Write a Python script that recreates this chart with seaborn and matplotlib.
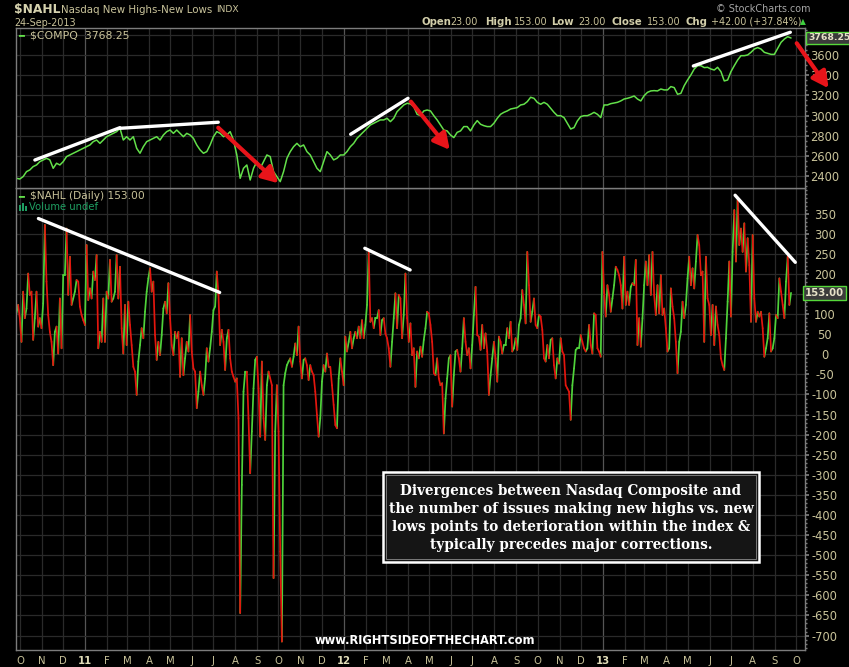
import numpy as np
import pandas as pd
import matplotlib
matplotlib.use("Agg")
import matplotlib.pyplot as plt
import matplotlib.dates as mdates
from matplotlib.ticker import MultipleLocator
from matplotlib.patches import Rectangle
import seaborn as sns

# ---------------- data ----------------
start_date = "2010-09-26"
end_date = "2013-09-24"

compq = [
    2379, 2372, 2396, 2445, 2462, 2495, 2511, 2544, 2561, 2577,
    2561, 2478, 2528, 2511, 2544, 2594, 2610, 2627, 2643, 2660,
    2676, 2692, 2709, 2742, 2758, 2725, 2758, 2791, 2808, 2824,
    2841, 2874, 2758, 2791, 2758, 2791, 2676, 2627, 2692, 2742,
    2758, 2775, 2791, 2758, 2808, 2841, 2857, 2824, 2857, 2824,
    2791, 2824, 2808, 2775, 2709, 2660, 2627, 2643, 2709, 2791,
    2841, 2824, 2791, 2808, 2841, 2758, 2610, 2379, 2478, 2511,
    2362, 2478, 2544, 2478, 2544, 2610, 2594, 2445, 2396, 2346,
    2445, 2577, 2643, 2692, 2725, 2692, 2709, 2643, 2610, 2544,
    2478, 2445, 2544, 2643, 2610, 2561, 2577, 2610, 2610, 2643,
    2692, 2725, 2775, 2808, 2841, 2874, 2907, 2924, 2940, 2957,
    2957, 2973, 2940, 2973, 3039, 3072, 3105, 3122,
    3115, 3089, 3013, 2999, 3046, 3055, 3046, 2999, 2957, 2907,
    2857, 2848, 2808, 2782, 2834, 2848, 2891, 2891, 2848, 2907,
    2950, 2914, 2900, 2891, 2891, 2924, 2973, 3013, 3032, 3046,
    3065, 3072, 3079, 3105, 3112, 3138, 3181, 3171, 3131, 3112,
    3131, 3112, 3072, 3032, 2999, 2999, 2980, 2924, 2867, 2881,
    2947, 2990, 2999, 2999, 3013, 3032, 3013, 2980, 3105, 3105,
    3118, 3125, 3131, 3145, 3164, 3171, 3181, 3194, 3164, 3145,
    3197, 3230, 3244, 3247, 3244, 3263, 3254, 3254, 3287, 3277,
    3211, 3220, 3296, 3352, 3402, 3461, 3494, 3494, 3475, 3478,
    3461, 3451, 3478, 3435, 3343, 3352, 3435, 3494, 3550, 3593,
    3593, 3600, 3626, 3659, 3673, 3659, 3626, 3616, 3606, 3606,
    3666, 3725, 3758, 3781, 3768,
]

nahl = [
    102, 123, 90, 31, 156, 90, 114, 201, 148, 156,
    36, 90, 156, 69, 90, 65, 127, 322, 181, 98,
    56, 31, -27, 56, 69, 2, 139, 15, 197, 197,
    313, 148, 243, 123, 139, 156, 185, 181, 119, 98,
    85, 73, 272, 135, 164, 139, 206, 185, 247, 15,
    56, 31, 139, 31, 156, 139, 235, 131, 139, 156,
    247, 139, 218, 65, 2, 123, 23, 131, 73, 23,
    -31, -43, -101, -18, 23, 65, 40, 106, 156, 189,
    214, 156, 181, 48, -14, 31, -2, 48, 114, 131,
    102, 177, 90, 23, -2, 56, 40, 56, -56, 40,
    -52, -10, 31, 7, 98, 7, -35, -43, -134, -93,
    -43, -77, -101, -60, 15, -18, 15, 56, 110, 119,
    206, 148, 23, 61, 31, -39, 40, 61, -10, -43,
    -56, -68, -60, -159, -644, -325, -93, -43, -43, -159,
    -296, -192, -85, -14, -6, -85, -205, -18, -159, -213,
    -77, -43, -60, -77, -557, -192, -77, -192, -491, -715,
    -77, -47, -27, -18, -10, -31, -6, 27, -2, 69,
    -18, -60, -14, -10, -27, -64,
    -27, -43, -52, -93, -151, -205, -159, -68, -27, -43,
    2, -31, -31, -77, -126, -176, -184, -60, -10, -43,
    -77, 44, 7, 31, 56, 15, 40, 56, 40, 69,
    40, 85, 40, 73, 123, 255, 81, 90, 65, 90,
    90, 110, 48, 85, 90, 52, 40, 15, -31, 31,
    90, 152, 65, 148, 139, 40, 98, 201, 90, 31,
    77, -2, 15, -81, 7, -10, 19, -6, 36, 65,
    106, 102, 73, 31, -47, -52, -10, -60, -77, -72,
    -197, -110, -60, -10, -2, -130, -52, 7, 11, -10,
    -43, 15, 90, 31, -2, 15, -35, 23, 98, 168,
    48, 44, 11, 73, 15, 52, 7, -101, -52, -10,
    31, -10, -68, 44, 31, 2, 23, 23, 65, 40,
    81, 7, 15, 40, 11, 73, 90, 160, 123, 77,
    255, 172, 81, 106, 139, 73, 65, 98, 94, 61,
    -10, -18, 23, -10, 36, 40, -27, -60, -10, -23,
    40, 7, -2, -77, -85, -93, -163, -77, -35, 11,
    15, 15, 48, 31, 15, 7, 15, 73, 23, 2,
    102, 98, 15, 7, -6, 255, 156, 94, 172, 148,
    106, 139, 172, 218, 210, 197, 172, 114, 243, 123,
    156, 123, 168, 177, 172, 235, 23, 90, 19, 90,
    172, 231, 172, 247, 148, 255, 148, 98, 172, 102,
    197, 98, 114, 65, 7, 15, 164, 119, 90, 31,
    -47, 31, 56, 131, 90, 123, 189, 243, 172, 214,
    164, 231, 297, 272, 197, 206, 31, 243, 139, 123,
    48, 123, 23, 119, 73, 48, -10, -27, -39, 40,
    131, 231, 94, 255, 359, 231, 384, 272, 313, 255,
    326, 206, 289, 222, 81, 297, 139, 81, 106, 94,
    106, 65, -6, 15, 40, 102, 7, 15, 40, 98,
    90, 189, 156, 123, 90, 181, 243, 123, 153,
]

month_labels = ["O", "N", "D", "11", "F", "M", "A", "M", "J", "J", "A", "S",
                "O", "N", "D", "12", "F", "M", "A", "M", "J", "J", "A", "S",
                "O", "N", "D", "13", "F", "M", "A", "M", "J", "J", "A", "S", "O"]
compq_ticks = [2400, 2600, 2800, 3000, 3200, 3400, 3600, 3800]
compq_tick_labels = ["2400", "2600", "2800", "3000", "3200", "3400", "3600", ""]
nahl_ticks = [350, 300, 250, 200, 150, 100, 50, 0, -50, -100, -150, -200, -250,
              -300, -350, -400, -450, -500, -550, -600, -650, -700]
# the 150 label sits under the last-value flag in the reference
nahl_tick_labels = ["" if v == 150 else str(v) for v in nahl_ticks]

compq_last = 3768.25
nahl_last = 153.00

# hand-drawn annotations (date, value) pairs
top_trendlines = [
    ("2010-10-22", 2560, "2011-02-19", 2880),
    ("2011-02-19", 2874, "2011-07-08", 2934),
    ("2012-01-11", 2815, "2012-04-01", 3171),
    ("2013-05-09", 3491, "2013-09-23", 3825),
]
top_arrows = [
    ("2011-07-08", 2880, "2011-10-01", 2330),
    ("2012-04-05", 3138, "2012-05-30", 2660),
    ("2013-10-02", 3716, "2013-11-16", 3270),
]
bottom_trendlines = [
    ("2010-10-27", 338, "2011-07-10", 154),
    ("2012-01-31", 264, "2012-04-04", 210),
    ("2013-07-07", 396, "2013-09-30", 229),
]

# ---------------- styling ----------------
KHAKI = "#c9c39a"
GRID = "#2a2a2a"
YEARGRID = "#555555"
SPINE = "#7c7c7c"
GREEN_TOP = "#63e04a"
GREEN = "#4fd23a"
RED = "#e3160e"

sns.set_theme(style="dark", rc={
    "axes.facecolor": "black", "figure.facecolor": "black",
    "axes.edgecolor": SPINE, "grid.color": GRID,
})
plt.rcParams["font.family"] = ["DejaVu Sans"]

W, H = 849, 667
fig = plt.figure(figsize=(W / 100, H / 100), dpi=100)
fig.patch.set_facecolor("black")

L = 16 / W
Wd = (805 - 16) / W
ax2 = fig.add_axes([L, 1 - 650 / H, Wd, (650 - 188) / H])
ax1 = fig.add_axes([L, 1 - 188 / H, Wd, (188 - 28) / H], sharex=ax2)

dates_c = pd.date_range(start_date, end_date, periods=len(compq))
dates_n = pd.date_range(start_date, end_date, periods=len(nahl))

# top panel: Nasdaq composite
dfc = pd.DataFrame({"date": dates_c, "close": compq})
sns.lineplot(data=dfc, x="date", y="close", ax=ax1, color=GREEN_TOP, lw=1.1,
             estimator=None)

# bottom panel: NAHL, each segment coloured by direction
rows = []
for i in range(len(nahl) - 1):
    d = "up" if nahl[i + 1] >= nahl[i] else "down"
    rows.append((dates_n[i], nahl[i], i, d))
    rows.append((dates_n[i + 1], nahl[i + 1], i, d))
dfn = pd.DataFrame(rows, columns=["date", "value", "seg", "dir"])
sns.lineplot(data=dfn, x="date", y="value", hue="dir", units="seg",
             estimator=None, palette={"up": GREEN, "down": RED},
             legend=False, ax=ax2, lw=1.25, solid_capstyle="round")

xmin = pd.Timestamp("2010-09-25 08:00")
xmax = pd.Timestamp("2013-10-13 17:00")
ax2.set_xlim(xmin, xmax)
ax1.set_ylim(2283, 3867)
ax2.set_ylim(-736, 414)

month_starts = pd.date_range("2010-10-01", "2013-10-01", freq="MS")
for ax in (ax1, ax2):
    ax.set_xlabel("")
    ax.set_ylabel("")
    ax.set_xticks(month_starts)
    ax.grid(True, which="major", color=GRID, lw=0.9)
    for s in ax.spines.values():
        s.set_color(SPINE)
        s.set_linewidth(1.0)
    ax.yaxis.tick_right()

ax2.set_xticklabels(month_labels)
ax1.tick_params(axis="x", which="both", length=0, labelbottom=False)
ax2.tick_params(axis="x", which="major", length=2.5, color=SPINE,
                labelcolor=KHAKI, labelsize=7.3, pad=1.5)
for lab in ax2.get_xticklabels():
    if lab.get_text().isdigit():
        lab.set_fontweight("bold")
        lab.set_color("#e0dcb8")

for ax in (ax1, ax2):
    for gl, lab in zip(ax.xaxis.get_gridlines(), month_labels):
        if lab.isdigit():
            gl.set_color(YEARGRID)

ax1.set_yticks(compq_ticks)
ax1.set_yticklabels(compq_tick_labels)
ax1.yaxis.set_minor_locator(MultipleLocator(50))
ax2.set_yticks(nahl_ticks)
ax2.set_yticklabels(nahl_tick_labels)
ax2.yaxis.set_minor_locator(MultipleLocator(10))
for ax in (ax1, ax2):
    ax.tick_params(axis="y", which="major", length=3, color=SPINE,
                   labelcolor=KHAKI, labelsize=8.3, pad=11.2, right=True, left=False)
    ax.tick_params(axis="y", which="minor", length=1.5, color=SPINE, right=True, left=False)
    ax.grid(False, which="minor")
    for lab in ax.get_yticklabels():
        lab.set_horizontalalignment("center")

# annotations
def dn(s):
    return mdates.date2num(pd.Timestamp(s))

for d0, v0, d1, v1 in top_trendlines:
    ax1.plot([pd.Timestamp(d0), pd.Timestamp(d1)], [v0, v1], color="white",
             lw=2.4, solid_capstyle="round", zorder=5)
for d0, v0, d1, v1 in bottom_trendlines:
    ax2.plot([pd.Timestamp(d0), pd.Timestamp(d1)], [v0, v1], color="white",
             lw=2.4, solid_capstyle="round", zorder=5)
for d0, v0, d1, v1 in top_arrows:
    ax1.annotate("", xy=(dn(d1), v1), xytext=(dn(d0), v0),
                 arrowprops=dict(arrowstyle="-|>,head_length=0.8,head_width=0.42",
                                 color="#e8141a", lw=3.0, shrinkA=0, shrinkB=0,
                                 mutation_scale=12),
                 annotation_clip=False, zorder=6)

# last value flags on the right axis
flag = dict(boxstyle="square,pad=0.2", fc="#3b3b3b", ec="#56d83a", lw=1.0)
ax1.text(1.004, compq_last, "3768.25", transform=ax1.get_yaxis_transform(),
         ha="left", va="center", fontsize=6.7, fontweight="bold", color="#e6e2c8",
         bbox=flag, zorder=10, clip_on=False)
ax2.text(1.0, nahl_last, "153.00", transform=ax2.get_yaxis_transform(),
         ha="left", va="center", fontsize=7.3, fontweight="bold", color="#e6e2c8",
         bbox=flag, zorder=10, clip_on=False)

# ---------------- header texts ----------------
def ftext(x, y, s, **kw):
    kw.setdefault("va", "center")
    return fig.text(x / W, 1 - y / H, s, **kw)

ftext(14, 9, "$NAHL", fontsize=8.8, fontweight="bold", color="#d6d2ae")
ftext(61, 10, "Nasdaq New Highs-New Lows", fontsize=7.4, color=KHAKI)
ftext(216, 10, "INDX", fontsize=6.6, color=KHAKI)
ftext(14, 23, "24-Sep-2013", fontsize=6.9, color=KHAKI)
ftext(716, 9, "© StockCharts.com", fontsize=6.9, color="#a6a6a6")

hdr = [(421, "Open", True), (450, "23.00", False), (485, "High", True),
       (514, "153.00", False), (551, "Low", True), (578, "23.00", False),
       (611, "Close", True), (647, "153.00", False), (685, "Chg", True),
       (711, "+42.00 (+37.84%)", False)]
for x, s, b in hdr:
    ftext(x, 22, s, fontsize=7.3 if b else 6.9,
          fontweight="bold" if b else "normal",
          color="#d2ceaa" if b else KHAKI)
ftext(800, 22, "▲", fontsize=5.5, color="#3fcf3f")

# panel legends
ftext(18, 35, "━", fontsize=7, color=GREEN_TOP)
ftext(30, 35, "$COMPQ  3768.25", fontsize=7.8, color=KHAKI)
ftext(18, 196, "━", fontsize=7, color=GREEN_TOP)
ftext(30, 196, "$NAHL (Daily) 153.00", fontsize=7.7, color=KHAKI)
for bx, bh in ((18.5, 6), (21.5, 8), (24.5, 5)):
    fig.add_artist(Rectangle((bx / W, 1 - 211 / H), 2.2 / W, bh / H,
                             transform=fig.transFigure, fc="#1f9f62", ec="none"))
ftext(29, 207, "Volume undef", fontsize=7.2, color="#1f9f62")

# text box
fig.add_artist(Rectangle((383 / W, 1 - 562 / H), (759 - 383) / W, (562 - 472) / H,
                         transform=fig.transFigure, fc="#151515", ec="white",
                         lw=1.8, zorder=20))
fig.add_artist(Rectangle((386 / W, 1 - 559 / H), (756 - 386) / W, (559 - 475) / H,
                         transform=fig.transFigure, fc="none", ec="#8a8a8a",
                         lw=0.6, zorder=21))
box_lines = ["Divergences between Nasdaq Composite and",
             "the number of issues making new highs vs. new",
             "lows points to deterioration within the index &",
             "typically precedes major corrections."]
for i, s in enumerate(box_lines):
    t = ftext(571, 491 + 18 * i, s, ha="center", fontsize=9.8, fontweight="bold",
              color="white", family=["DejaVu Serif"])
    t.set_zorder(22)

# watermark
ftext(425, 640, "www.RIGHTSIDEOFTHECHART.com", ha="center", fontsize=8.3,
      fontweight="bold", color="white", family=["DejaVu Sans"])

fig.savefig("out.png", dpi=100, facecolor="black")
